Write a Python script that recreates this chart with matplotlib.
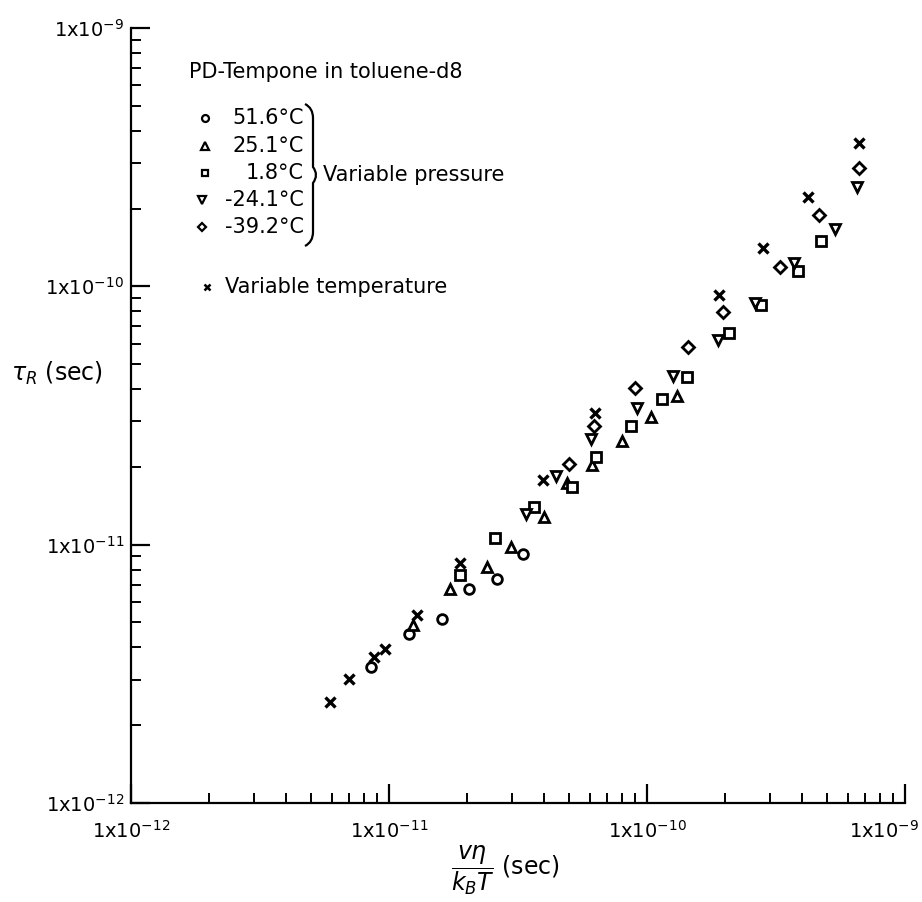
import numpy as np
import matplotlib
matplotlib.use("Agg")
import matplotlib.pyplot as plt
from matplotlib.path import Path
from matplotlib.patches import PathPatch
from matplotlib.ticker import LogLocator, NullFormatter
from matplotlib.transforms import ScaledTranslation

# --- data (x = v*eta/kBT in s, y = tau_R in s) ---
x_516 = [8.51e-12, 1.20e-11, 1.60e-11, 2.04e-11, 2.62e-11, 3.30e-11]
y_516 = [3.36e-12, 4.51e-12, 5.15e-12, 6.73e-12, 7.36e-12, 9.20e-12]

x_251 = [1.24e-11, 1.72e-11, 2.40e-11, 2.97e-11, 3.99e-11, 4.90e-11, 6.12e-11, 8.00e-11, 1.036e-10, 1.306e-10]
y_251 = [4.89e-12, 6.73e-12, 8.19e-12, 9.79e-12, 1.28e-11, 1.73e-11, 2.03e-11, 2.52e-11, 3.12e-11, 3.76e-11]

x_18 = [1.88e-11, 2.58e-11, 3.65e-11, 5.12e-11, 6.34e-11, 8.67e-11, 1.143e-10, 1.43e-10, 2.08e-10, 2.77e-10, 3.85e-10, 4.72e-10]
y_18 = [7.62e-12, 1.06e-11, 1.40e-11, 1.67e-11, 2.18e-11, 2.88e-11, 3.66e-11, 4.45e-11, 6.59e-11, 8.47e-11, 1.146e-10, 1.50e-10]

x_m241 = [3.40e-11, 4.44e-11, 6.07e-11, 9.14e-11, 1.26e-10, 1.88e-10, 2.62e-10, 3.72e-10, 5.36e-10, 6.52e-10]
y_m241 = [1.31e-11, 1.84e-11, 2.56e-11, 3.38e-11, 4.50e-11, 6.20e-11, 8.61e-11, 1.23e-10, 1.667e-10, 2.42e-10]

x_m392 = [4.99e-11, 6.24e-11, 8.97e-11, 1.44e-10, 1.97e-10, 3.28e-10, 4.65e-10, 6.64e-10]
y_m392 = [2.05e-11, 2.88e-11, 4.04e-11, 5.82e-11, 7.95e-11, 1.19e-10, 1.89e-10, 2.87e-10]

x_vt = [5.90e-12, 7.00e-12, 8.75e-12, 9.65e-12, 1.28e-11, 1.88e-11, 3.96e-11, 6.28e-11, 1.90e-10, 2.82e-10, 4.21e-10, 6.64e-10]
y_vt = [2.46e-12, 3.02e-12, 3.67e-12, 3.94e-12, 5.34e-12, 8.49e-12, 1.78e-11, 3.23e-11, 9.25e-11, 1.41e-10, 2.22e-10, 3.59e-10]

temp_labels = ["51.6°C", "25.1°C", "1.8°C", "-24.1°C", "-39.2°C"]
decades = [1e-12, 1e-11, 1e-10, 1e-9]
decade_labels = [r"1x10$^{-12}$", r"1x10$^{-11}$", r"1x10$^{-10}$", r"1x10$^{-9}$"]

W, H = 922, 902
fig = plt.figure(figsize=(W / 100, H / 100), dpi=100)
ax = fig.add_axes([131 / W, 1 - 803 / H, 774 / W, 775 / H])


def fpos(px, py):
    # pixel position -> figure fraction
    return px / W, 1 - py / H


pressure_sets = [
    (x_516, y_516, "o", 7.0),
    (x_251, y_251, "^", 7.5),
    (x_18, y_18, "s", 6.5),
    (x_m241, y_m241, "v", 7.5),
    (x_m392, y_m392, "D", 6.0),
]
for xs, ys, mk, ms in pressure_sets:
    ax.plot(xs, ys, ls="none", marker=mk, ms=ms, mfc="white", mec="black", mew=2.0)
ax.plot(x_vt, y_vt, ls="none", marker="x", ms=7, mec="black", mew=2.4)

ax.set_xscale("log")
ax.set_yscale("log")
ax.set_xlim(1e-12, 1e-9)
ax.set_ylim(1e-12, 1e-9)
ax.set_xticks(decades, decade_labels)
ax.set_yticks(decades, decade_labels)
for axis in (ax.xaxis, ax.yaxis):
    axis.set_minor_locator(LogLocator(base=10, subs=np.arange(2, 10)))
    axis.set_minor_formatter(NullFormatter())

ax.spines[["top", "right"]].set_visible(False)
for s in ("left", "bottom"):
    ax.spines[s].set_linewidth(1.6)
ax.tick_params(which="major", direction="in", length=14, width=1.6, labelsize=14)
ax.tick_params(which="minor", direction="in", length=7, width=1.4)
ax.tick_params(axis="x", which="major", pad=12)
ax.tick_params(axis="y", which="major", pad=5)

# last x label sits left of its tick so that it stays inside the figure
last = ax.get_xticklabels()[-1]
last.set_horizontalalignment("right")
last.set_transform(last.get_transform() + ScaledTranslation(14 / 100, 0, fig.dpi_scale_trans))

# axis titles
fig.text(*fpos(57, 373), r"$\tau_R$ (sec)", ha="center", va="center", fontsize=17)
fig.text(*fpos(505, 870), r"$\dfrac{v\eta}{k_BT}$ (sec)", ha="center", va="center", fontsize=17)

# legend block drawn by hand
fig.text(*fpos(189, 72), "PD-Tempone in toluene-d8", ha="left", va="center", fontsize=15)
row_y = [118, 146, 173, 200, 227]
legend_marks = ["o", "^", "s", "v", "D"]
legend_ms = [5, 5.5, 5, 5.5, 4.5]
for lab, yy, mk, ms in zip(temp_labels, row_y, legend_marks, legend_ms):
    mx = 205 if not lab.startswith("-") else 202
    fx, fy = fpos(mx, yy)
    fig.add_artist(plt.Line2D([fx], [fy], ls="none", marker=mk, ms=ms, mfc="white",
                              mec="black", mew=1.6, transform=fig.transFigure))
    fig.text(*fpos(304, yy), lab, ha="right", va="center", fontsize=15)

fx, fy = fpos(207, 287)
fig.add_artist(plt.Line2D([fx], [fy], ls="none", marker="x", ms=5, mec="black",
                          mew=1.8, transform=fig.transFigure))
fig.text(*fpos(225, 287), "Variable temperature", ha="left", va="center", fontsize=15)

# curly brace grouping the variable-pressure runs
bx = [305, 313, 313, 313, 319, 313, 313, 313, 305]
by = [104, 108, 118, 167, 175, 183, 232, 242, 246]
verts = [fpos(a, b) for a, b in zip(bx, by)]
codes = [Path.MOVETO, Path.CURVE3, Path.CURVE3, Path.LINETO, Path.CURVE3, Path.CURVE3,
         Path.LINETO, Path.CURVE3, Path.CURVE3]
fig.add_artist(PathPatch(Path(verts, codes), fc="none", ec="black", lw=1.6,
                         transform=fig.transFigure))
fig.text(*fpos(323, 175), "Variable pressure", ha="left", va="center", fontsize=15)

fig.savefig("out.png", dpi=100, facecolor="white")
